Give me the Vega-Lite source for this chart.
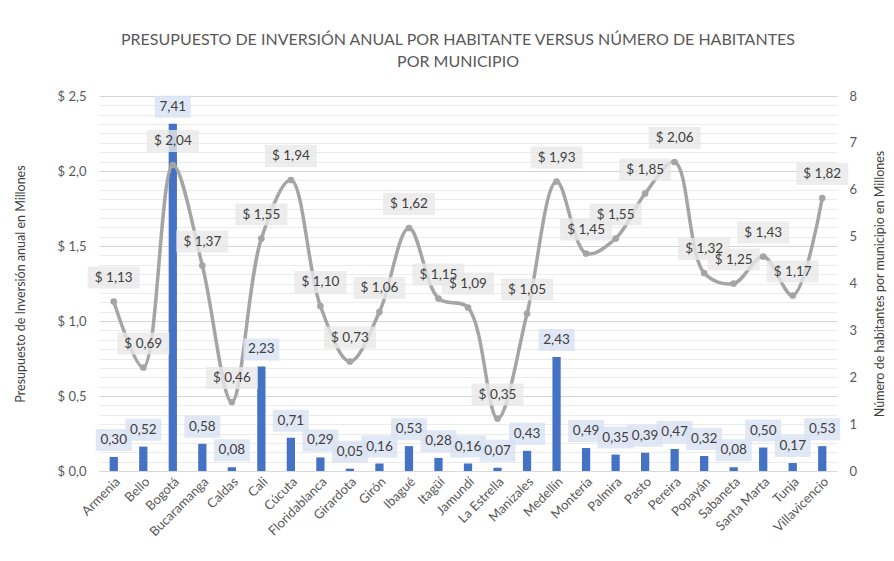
{
  "$schema": "https://vega.github.io/schema/vega-lite/v6.json",
  "width": 738,
  "height": 375,
  "autosize": {"type": "none"},
  "padding": {"left": 99, "top": 96, "right": 57, "bottom": 90},
  "background": "white",
  "config": {
    "locale": {"number": {"decimal": ",", "thousands": ".", "grouping": [3], "currency": ["$ ", ""]}},
    "view": {"stroke": null},
    "font": "Lato"
  },
  "title": {
    "text": ["PRESUPUESTO  DE INVERSIÓN  ANUAL POR HABITANTE  VERSUS NÚMERO  DE HABITANTES", "POR MUNICIPIO"],
    "font": "Lato", "fontSize": 16, "fontWeight": "normal", "color": "#595959",
    "offset": 20, "lineHeight": 22, "anchor": "middle", "dx": -10
  },
  "data": {"values": [
    {"municipio": "Armenia", "presupuesto": 1.13, "habitantes": 0.30},
    {"municipio": "Bello", "presupuesto": 0.69, "habitantes": 0.52},
    {"municipio": "Bogotá", "presupuesto": 2.04, "habitantes": 7.41},
    {"municipio": "Bucaramanga", "presupuesto": 1.37, "habitantes": 0.58},
    {"municipio": "Caldas", "presupuesto": 0.46, "habitantes": 0.08},
    {"municipio": "Cali", "presupuesto": 1.55, "habitantes": 2.23},
    {"municipio": "Cúcuta", "presupuesto": 1.94, "habitantes": 0.71},
    {"municipio": "Floridablanca", "presupuesto": 1.10, "habitantes": 0.29},
    {"municipio": "Girardota", "presupuesto": 0.73, "habitantes": 0.05},
    {"municipio": "Girón", "presupuesto": 1.06, "habitantes": 0.16},
    {"municipio": "Ibagué", "presupuesto": 1.62, "habitantes": 0.53},
    {"municipio": "Itagüí", "presupuesto": 1.15, "habitantes": 0.28},
    {"municipio": "Jamundí", "presupuesto": 1.09, "habitantes": 0.16},
    {"municipio": "La Estrella", "presupuesto": 0.35, "habitantes": 0.07},
    {"municipio": "Manizales", "presupuesto": 1.05, "habitantes": 0.43},
    {"municipio": "Medellín", "presupuesto": 1.93, "habitantes": 2.43},
    {"municipio": "Montería", "presupuesto": 1.45, "habitantes": 0.49},
    {"municipio": "Palmira", "presupuesto": 1.55, "habitantes": 0.35},
    {"municipio": "Pasto", "presupuesto": 1.85, "habitantes": 0.39},
    {"municipio": "Pereira", "presupuesto": 2.06, "habitantes": 0.47},
    {"municipio": "Popayán", "presupuesto": 1.32, "habitantes": 0.32},
    {"municipio": "Sabaneta", "presupuesto": 1.25, "habitantes": 0.08},
    {"municipio": "Santa Marta", "presupuesto": 1.43, "habitantes": 0.50},
    {"municipio": "Tunja", "presupuesto": 1.17, "habitantes": 0.17},
    {"municipio": "Villavicencio", "presupuesto": 1.82, "habitantes": 0.53}
  ]},
  "encoding": {
    "x": {
      "field": "municipio", "type": "nominal", "sort": null,
      "scale": {"paddingInner": 0, "paddingOuter": 0},
      "axis": {
        "title": null, "labelAngle": -45, "labelFontSize": 13, "labelColor": "#595959",
        "ticks": false, "domain": true, "domainColor": "#D9D9D9", "labelPadding": 4, "labelFont": "Lato"
      }
    }
  },
  "layer": [
    {
      "mark": {"type": "bar", "color": "#4472C4", "width": {"band": 0.28}},
      "encoding": {
        "y": {
          "field": "habitantes", "type": "quantitative",
          "scale": {"domain": [0, 8], "nice": false, "zero": true},
          "axis": {
            "orient": "right",
            "title": "Número de habitantes por municipio en Millones",
            "values": [0, 0.2, 0.4, 0.6, 0.8, 1, 1.2, 1.4, 1.6, 1.8, 2, 2.2, 2.4, 2.6, 2.8, 3, 3.2, 3.4, 3.6, 3.8, 4, 4.2, 4.4, 4.6, 4.8, 5, 5.2, 5.4, 5.6, 5.8, 6, 6.2, 6.4, 6.6, 6.8, 7, 7.2, 7.4, 7.6, 7.8, 8],
            "labelExpr": "datum.value == round(datum.value) ? format(datum.value, 'd') : ''",
            "labelOverlap": false,
            "ticks": false, "domain": false, "grid": true,
            "gridColor": {"condition": {"test": "abs(datum.value / 1.6 - round(datum.value / 1.6)) < 0.001", "value": "#D4D4D4"}, "value": "#EBEBEB"},
            "gridWidth": 1,
            "labelPadding": 12, "labelFontSize": 13, "labelColor": "#595959", "labelFont": "Lato",
            "titleAngle": -90, "titleFontSize": 12.5, "titleFontWeight": "normal", "titleColor": "#404040",
            "titlePadding": 30, "titleFont": "Lato"
          }
        }
      }
    },
    {
      "encoding": {
        "y": {
          "field": "presupuesto", "type": "quantitative",
          "scale": {"domain": [0, 2.5], "nice": false},
          "axis": {
            "orient": "left",
            "title": "Presupuesto de Inversión anual en Millones",
            "values": [0, 0.5, 1, 1.5, 2, 2.5],
            "format": "$.1f",
            "grid": false, "ticks": false, "domain": false,
            "labelPadding": 13, "labelFontSize": 13, "labelColor": "#595959", "labelFont": "Lato",
            "titleFontSize": 12.5, "titleFontWeight": "normal", "titleColor": "#404040",
            "titlePadding": 30, "titleFont": "Lato"
          }
        }
      },
      "layer": [
        {"mark": {"type": "line", "interpolate": "catmull-rom", "color": "#A5A5A5", "strokeWidth": 3.5}},
        {"mark": {"type": "point", "filled": true, "color": "#A5A5A5", "size": 45, "opacity": 1}},
        {"mark": {"type": "point", "shape": "M-26,-35 H26 V-13 H-26 Z", "filled": true, "color": "#E9E9E9", "size": 4, "opacity": 0.8}},
        {
          "mark": {"type": "text", "dy": -24, "fontSize": 13.5, "color": "#404040", "font": "Lato"},
          "encoding": {"text": {"field": "presupuesto", "type": "quantitative", "format": "$.2f"}}
        }
      ]
    },
    {
      "encoding": {
        "y": {
          "field": "habitantes", "type": "quantitative",
          "scale": {"domain": [0, 8], "nice": false},
          "axis": null
        }
      },
      "layer": [
        {"mark": {"type": "point", "shape": "M-18,-28 H18 V-6 H-18 Z", "filled": true, "color": "#DAE3F3", "size": 4, "opacity": 0.85}},
        {
          "mark": {"type": "text", "dy": -17, "fontSize": 13.5, "color": "#404040", "font": "Lato"},
          "encoding": {"text": {"field": "habitantes", "type": "quantitative", "format": ".2f"}}
        }
      ]
    }
  ],
  "resolve": {"scale": {"y": "independent"}}
}
